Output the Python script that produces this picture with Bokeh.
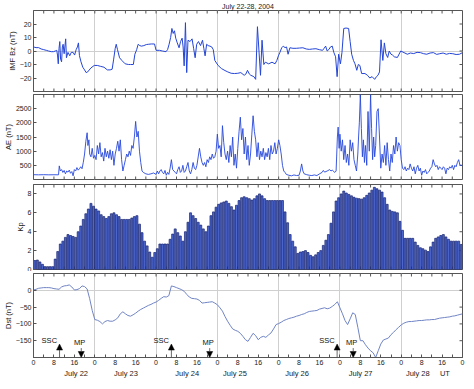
import math
from bokeh.plotting import figure
from bokeh.models import Range1d, LinearAxis, FixedTicker, Arrow, NormalHead, ColumnDataSource
from bokeh.layouts import column
from bokeh.embed import file_html
from bokeh.resources import INLINE
from bokeh.core.properties import value

# ---------------- data ----------------
title_text = "July 22-28, 2004"
hour_ticks = list(range(0, 169, 8))
hour_minor = list(range(4, 169, 8))
day_lines = [24, 48, 72, 96, 120, 144]
day_label_pos = [16.7, 36.2, 60.2, 78.9, 103.2, 128.1, 150.5, 161.1]
day_labels = ["July 22", "July 23", "July 24", "July 25", "July 26", "July 27", "July 28", "UT"]

bz_t = [0.0, 1.0, 2.0, 3.0, 4.0, 5.0, 5.9, 7.0, 7.8, 8.5,
        9.1, 9.4, 9.7, 10.0, 10.3, 10.6, 11.0, 11.3, 11.6, 12.0,
        12.6, 12.9, 13.5, 14.2, 14.8, 15.5, 16.1, 16.7, 17.2, 17.6,
        18.0, 18.6, 19.3, 20.0, 20.6, 21.2, 22.5, 23.8, 25.0, 26.3,
        27.6, 28.9, 30.0, 30.8, 31.4, 32.0, 32.4, 32.9, 33.7, 34.6,
        35.9, 37.2, 38.0, 39.1, 39.7, 40.4, 41.0, 41.6, 42.3, 43.2,
        44.2, 45.1, 46.1, 47.4, 48.0, 49.3, 50.5, 51.9, 52.5, 53.1,
        53.7, 54.2, 54.7, 55.2, 55.7, 56.3, 57.0, 57.6, 58.2, 58.6,
        59.0, 59.5, 60.0, 60.5, 61.3, 62.1, 62.7, 63.3, 63.9, 64.6,
        65.4, 66.2, 66.7, 67.2, 67.8, 68.4, 69.1, 69.8, 70.4, 71.0,
        72.3, 73.6, 75.0, 76.1, 77.4, 78.7, 80.0, 81.2, 82.5, 83.2,
        83.8, 84.5, 85.1, 86.3, 87.0, 87.7, 88.3, 88.9, 89.5, 90.2,
        90.8, 92.1, 93.4, 94.6, 95.3, 95.9, 96.5, 97.2, 97.8, 98.5,
        99.1, 99.7, 100.4, 101.6, 102.9, 104.2, 105.5, 106.8, 108.0, 109.3,
        110.6, 111.9, 113.2, 113.8, 114.4, 115.0, 115.7, 116.3, 117.0, 117.6,
        118.3, 118.9, 119.5, 120.2, 120.8, 121.5, 122.4, 123.4, 124.0, 124.6,
        125.3, 125.9, 126.6, 127.2, 127.8, 128.5, 129.8, 130.8, 131.7, 132.6,
        133.6, 134.3, 134.9, 135.5, 136.1, 136.8, 137.4, 138.0, 138.7, 139.3,
        140.0, 140.6, 141.3, 142.5, 143.8, 145.1, 146.4, 147.6, 148.9, 150.2,
        151.5, 152.8, 154.0, 155.3, 156.6, 157.9, 159.1, 160.4, 161.7, 162.9,
        164.2, 165.5, 166.8, 168.0]
bz_v = [3, 2.5, 2.5, 1.5, 1, 0.5, 0, -0.5, -0.5, 0,
        0.5, -3, -9.5, 2, 7, -6, -8, 3, 5, -2,
        9, -5, -1, -3.5, -1, -1, -3, 1, 3, 6,
        -3.5, -8, -12, -14, -16, -15.5, -12.5, -10.7, -10.7, -11.4,
        -12, -14, -14, -13.5, -6, 2, 5, 1, -5, -7,
        -9.5, -10, -10, -10, -2.4, 1, 5, 4, 3.6, 4,
        4.8, 5, 5.2, 5.2, 0.5, 0.5, 0, -0.5, 1, 5,
        10, 16.7, 13, 15, 9.5, 6, 2.4, 7, 9.5, 3,
        -11, 21, -16, 8, 7, 9, 2, -5, 5, 7,
        4, 8, 2, -3.6, 5, 4, 3.6, 3, 1, -7,
        -10.7, -13, -14.5, -15.5, -16.5, -16.7, -16.5, -16, -18, -17,
        -14.3, -17, -18, -19, -21, 18, 0, -18, 8, -10,
        -8.3, -9.5, -8.3, -9.5, -7, -3.6, -1, 2.4, 3.6, 2.5,
        3, -2.4, 2.4, 2, 2, 2.2, 2.4, 1.5, 1.2, 1.5,
        1.7, 1, 0.5, 2, 3.6, 0, 1.2, 3, 3.6, -1,
        -4.3, -19, -2.4, -9.5, -1, 16.7, 17, 16.7, 7, -2.4,
        -7, -9.5, -14.3, -10, -10.7, -16.7, -16.7, -18, -20, -19,
        -21, -19, -18, -15.5, 8.3, -7, 6, -2, -4.8, 0,
        -2.4, -3, -4.3, -4.8, 0, -1.2, -2.4, -1.5, -1.9, -1,
        -1.2, -2, -2.4, -1.5, -1.2, -2.5, -2, -1.5, -2.4, -1.8,
        -2, -2.6, -2.4, -1.2]

ae_t = [0, 2, 4, 6, 8, 9.8, 10.1, 10.5, 11, 11.5,
        12, 12.5, 13, 13.5, 14, 14.5, 15, 15.5, 16, 16.5,
        17, 17.5, 18, 18.5, 19, 19.5, 20, 20.5, 21, 21.3,
        21.7, 22, 22.5, 23, 23.5, 24, 24.5, 25, 25.5, 26,
        26.5, 27, 27.5, 28, 28.5, 29, 29.5, 30, 30.5, 31,
        31.5, 32, 32.5, 33, 33.5, 34, 34.5, 35, 35.5, 36,
        36.5, 37, 37.5, 38, 38.5, 39, 39.5, 40, 40.5, 41,
        41.5, 42, 42.5, 43, 44, 45, 46, 47, 48, 48.5,
        49, 49.5, 50, 50.5, 51, 51.5, 52, 52.5, 53, 53.5,
        54, 54.5, 55, 55.5, 56, 56.5, 57, 57.5, 58, 58.5,
        59, 59.5, 60, 60.5, 61, 61.5, 62, 62.5, 63, 63.5,
        64, 65, 65.5, 66, 66.5, 67, 67.5, 68, 68.5, 69,
        69.5, 70, 70.5, 71, 71.5, 72, 72.5, 73, 73.5, 74,
        74.5, 75, 75.5, 76, 76.5, 77, 77.5, 78, 78.5, 79,
        79.5, 80, 80.5, 81, 81.5, 82, 82.5, 83, 83.5, 84,
        84.5, 85, 85.5, 86, 86.5, 87, 87.5, 88, 88.5, 89,
        89.5, 90, 90.5, 91, 91.5, 92, 92.5, 93, 93.5, 94,
        94.5, 95, 95.5, 96, 96.5, 97, 97.5, 98, 98.5, 99,
        100, 101, 102, 103, 104, 104.5, 105, 105.5, 106, 107,
        108, 109, 110, 111, 112, 113, 113.5, 114, 115, 116,
        116.5, 117, 118, 118.5, 119, 119.3, 119.7, 120, 120.5, 121,
        121.5, 122, 122.5, 123, 123.5, 124, 124.5, 125, 125.5, 126,
        126.5, 127, 127.3, 127.6, 128, 128.4, 128.8, 129.2, 129.6, 130,
        130.5, 131, 131.5, 132, 132.4, 132.8, 133.2, 133.6, 134, 134.5,
        135, 135.5, 136, 136.5, 137, 137.5, 138, 138.5, 139, 139.5,
        140, 140.5, 141, 141.5, 142, 142.5, 143, 143.5, 144, 144.5,
        145, 145.5, 146, 146.5, 147, 147.5, 148, 148.5, 149, 149.5,
        150, 150.5, 151, 151.5, 152, 152.5, 153, 153.5, 154, 154.5,
        155, 155.5, 156, 156.5, 157, 157.5, 158, 158.5, 159, 159.5,
        160, 160.5, 161, 161.5, 162, 162.5, 163, 163.5, 164, 164.5,
        165, 165.5, 166, 166.5, 167, 167.5, 168]
ae_v = [170, 165, 170, 165, 168, 165, 480, 300, 350, 250,
        320, 200, 300, 260, 330, 220, 280, 130, 350, 300,
        420, 330, 380, 450, 380, 600, 900, 1350, 1650, 1200,
        1400, 900, 800, 1100, 750, 850, 700, 1200, 900, 1300,
        800, 950, 650, 1100, 800, 1000, 750, 1050, 700, 1000,
        500, 900, 1100, 1350, 1000, 1400, 700, 300, 500, 700,
        900, 800, 1000, 850, 1200, 1100, 1500, 2050, 1500, 1700,
        1000, 600, 300, 250, 200, 180, 200, 230, 180, 300,
        200, 300, 350, 250, 200, 320, 150, 250, 180, 400,
        700, 350, 300, 250, 200, 350, 450, 250, 300, 500,
        250, 300, 450, 600, 300, 200, 350, 600, 400, 350,
        500, 1100, 800, 600, 500, 600, 450, 700, 600, 800,
        700, 900, 750, 800, 1000, 1600, 1100, 1200, 800, 1900,
        1300, 900, 700, 1000, 600, 1200, 800, 1500, 500, 900,
        400, 1100, 1700, 2200, 1400, 1800, 900, 1500, 700, 1200,
        500, 900, 1600, 2250, 1700, 1400, 800, 1300, 700, 1000,
        800, 1100, 700, 950, 800, 1100, 700, 1200, 900, 1000,
        1300, 900, 1100, 1400, 1200, 900, 500, 300, 250, 180,
        150, 130, 160, 140, 150, 300, 550, 300, 200, 170,
        150, 140, 160, 140, 200, 250, 320, 260, 300, 350,
        300, 330, 250, 300, 1500, 1850, 1100, 1600, 1000, 1400,
        700, 1200, 600, 900, 500, 1400, 1000, 1300, 700, 500,
        300, 900, 1500, 2000, 3000, 1800, 800, 1400, 600, 1200,
        500, 2400, 1000, 3000, 1800, 700, 1500, 800, 1200, 2400,
        2500, 1500, 400, 900, 600, 1200, 500, 1300, 700, 300,
        900, 600, 1200, 900, 1500, 1000, 1300, 1200, 700, 400,
        350, 450, 300, 400, 350, 550, 400, 300, 450, 200,
        400, 500, 300, 400, 150, 300, 250, 350, 200, 250,
        300, 400, 450, 700, 550, 450, 500, 350, 450, 400,
        350, 450, 400, 200, 400, 350, 450, 400, 500, 350,
        500, 450, 600, 700, 500, 500, 480]

kp = [0.95, 1.0, 0.8, 0.55, 0.3, 0.3, 0.3, 0.3, 1.1, 1.9, 2.7, 3.0,
      3.4, 3.7, 3.6, 3.5, 3.4, 4.0, 4.6, 5.3, 5.9, 6.4, 7.0, 6.7,
      6.4, 6.2, 5.8, 5.6, 5.4, 5.6, 5.9, 6.0, 5.8, 5.6, 5.3, 5.3,
      5.3, 5.3, 5.45, 5.6, 5.7, 4.8, 3.9, 3.0, 2.5, 1.85, 1.3, 1.8,
      2.2, 2.7, 2.7, 2.7, 2.7, 3.2, 3.75, 4.3, 3.9, 3.55, 3.0, 4.0,
      5.0, 6.0, 5.7, 5.4, 5.0, 4.7, 4.3, 4.0, 4.6, 5.7, 6.1, 6.6,
      6.9, 7.05, 7.15, 7.25, 7.0, 6.65, 6.3, 6.8, 7.3, 7.6, 7.7, 7.6,
      7.5, 7.35, 7.5, 7.8, 8.0, 7.8, 7.5, 7.3, 7.3, 7.3, 7.3, 7.3,
      7.3, 7.3, 6.1, 4.95, 3.7, 3.0, 2.4, 1.7, 1.85, 1.9, 2.0, 1.8,
      1.5, 1.35, 1.55, 1.8, 2.0, 2.55, 3.1, 3.7, 4.9, 6.1, 7.25, 7.6,
      8.0, 8.3, 8.1, 7.95, 7.8, 7.65, 7.55, 7.5, 7.45, 7.6, 7.85, 8.1,
      8.4, 8.7, 8.55, 8.4, 8.2, 7.6, 6.9, 6.3, 6.15, 6.1, 6.0, 5.1,
      4.15, 3.3, 3.3, 3.3, 3.3, 2.9, 2.55, 2.3, 2.2, 2.05, 1.9, 2.4,
      2.9, 3.3, 3.45, 3.6, 3.7, 3.45, 3.2, 3.0, 3.0, 3.0, 3.0, 2.65]

dst = [1, 3, 6, 7, 8, 8, 8, 7, 5, 4, 3, 10,
       13, 14, 16, 10, 1, 2, 5, 13, 11, 4, -25, -60,
       -87, -89, -93, -100, -93, -90, -92, -92, -88, -82, -70, -64,
       -70, -75, -77, -73, -68, -62, -57, -53, -49, -45, -42, -38,
       -35, -30, -24, -19, -20, -16, 13, 11, 8, 5, 2, -3,
       -12, -20, -24, -25, -26, -30, -38, -37, -36, -35, -34, -38,
       -43, -52, -62, -78, -92, -104, -115, -119, -122, -128, -137, -147,
       -152, -140, -128, -135, -147, -140, -137, -140, -133, -127, -115, -102,
       -99, -95, -90, -87, -84, -82, -80, -77, -75, -72, -70, -66,
       -63, -62, -61, -60, -56, -54, -52, -55, -53, -48, -42, -34,
       -52, -70, -90, -102, -85, -67, -72, -110, -150, -150, -162, -172,
       -180, -186, -200, -180, -160, -148, -145, -142, -132, -125, -117, -110,
       -103, -98, -95, -93, -93, -92, -91, -90, -90, -89, -88, -88,
       -87, -87, -85, -83, -82, -81, -80, -79, -77, -76, -74, -72,
       -70]

ssc_t = [10.2, 54.0, 118.9]
mp_t = [18.7, 69.0, 125.2]

assert len(bz_t) == len(bz_v)
assert len(ae_t) == len(ae_v)

# ---------------- styling ----------------
FONT = "Liberation Sans"
AX = "#555555"
GRID = "#cfcfcf"
W = 466
LEFT = 26
RIGHT = 4
X0, X1 = 0, 168
TICK = 3

xr = Range1d(X0, X1)
all_hour_ticks = sorted(hour_ticks + hour_minor)


def style(ax):
    ax.axis_line_color = AX
    ax.major_tick_line_color = AX
    ax.minor_tick_line_color = AX
    ax.major_tick_in = TICK
    ax.major_tick_out = 0
    ax.minor_tick_in = TICK
    ax.minor_tick_out = 0
    ax.major_label_text_font = FONT
    ax.major_label_text_color = "#222222"
    ax.major_label_text_font_size = "7px"
    ax.major_label_standoff = 2
    ax.axis_label_text_font = FONT
    ax.axis_label_text_font_style = "normal"
    ax.axis_label_text_font_size = "7.5px"
    ax.axis_label_text_color = "#222222"
    ax.axis_label_standoff = 0


def inward_ticks(p, xs, ys, angle):
    # short tick marks of fixed screen length, drawn from a frame edge into the plot
    p.ray(x=xs, y=ys, length=TICK, length_units="screen", angle=angle,
          line_color=AX, line_width=1)


def make_fig(h, yr, yticks, ylabel, top, bottom, xlabels=False, zero_line=False):
    p = figure(width=W, height=h, x_range=xr, y_range=Range1d(*yr),
               output_backend="svg", toolbar_location=None,
               min_border_left=LEFT, min_border_right=RIGHT,
               min_border_top=top, min_border_bottom=bottom)
    p.outline_line_color = AX
    xa = p.xaxis[0]
    if xlabels:
        xa.ticker = FixedTicker(ticks=hour_ticks, minor_ticks=hour_minor)
        style(xa)
        xa.major_label_overrides = {t: str(t % 24) for t in hour_ticks}
    else:
        xa.visible = False
        inward_ticks(p, all_hour_ticks, [yr[0]] * len(all_hour_ticks), math.pi / 2)
    ya = p.yaxis[0]
    ya.ticker = FixedTicker(ticks=yticks, minor_ticks=[])
    style(ya)
    ya.minor_tick_line_color = None
    ya.axis_label = ylabel
    inward_ticks(p, all_hour_ticks, [yr[1]] * len(all_hour_ticks), -math.pi / 2)
    inward_ticks(p, [X1] * len(yticks), yticks, math.pi)
    p.xgrid.ticker = FixedTicker(ticks=day_lines)
    p.xgrid.grid_line_color = GRID
    if zero_line:
        p.ygrid.ticker = FixedTicker(ticks=[0])
        p.ygrid.grid_line_color = GRID
    else:
        p.ygrid.grid_line_color = None
    return p


# Panel 1: IMF Bz
p1 = make_fig(92, (-30, 30), [-20, -10, 0, 10, 20], "IMF Bz (nT)", 9, 1, zero_line=True)
p1.title.text = title_text
p1.title.align = "center"
p1.title.text_font = FONT
p1.title.text_font_size = "7px"
p1.title.text_font_style = "normal"
p1.title.text_color = "#222222"
p1.title.standoff = 1
p1.line(bz_t, bz_v, line_color="#2445d6", line_width=1)

# Panel 2: AE
p2 = make_fig(90, (0, 3000), [500, 1000, 1500, 2000, 2500], "AE (nT)", 2, 3)
p2.line(ae_t, ae_v, line_color="#2747da", line_width=0.9)

# Panel 3: Kp
p3 = make_fig(89, (0, 9), [0, 2, 4, 6, 8], "Kp", 2, 2)
p3.vbar(x=[i + 0.5 for i in range(len(kp))], top=kp, bottom=0, width=0.78,
        fill_color="#4d67cf", line_color="#16226e", line_width=0.7)

# Panel 4: Dst
p4 = make_fig(110, (-200, 50), [-150, -100, -50, 0], "Dst (nT)", 2, 24,
              xlabels=True, zero_line=True)
p4.line(list(range(len(dst))), dst, line_color="#7084c4", line_width=1)

da = LinearAxis(ticker=FixedTicker(ticks=day_label_pos, minor_ticks=[]))
style(da)
da.axis_line_color = None
da.major_tick_line_color = None
da.major_tick_in = 0
da.major_label_text_font_size = "7.5px"
da.major_label_standoff = 1
da.major_label_overrides = {pos: lab for pos, lab in zip(day_label_pos, day_labels)}
p4.add_layout(da, "below")

ssc_src = ColumnDataSource(dict(x=ssc_t, y0=[-200] * len(ssc_t), y1=[-160] * len(ssc_t)))
mp_src = ColumnDataSource(dict(x=mp_t, y0=[-172] * len(mp_t), y1=[-200] * len(mp_t)))
for src in (ssc_src, mp_src):
    p4.add_layout(Arrow(end=NormalHead(size=6, fill_color="black", line_color="black", line_width=0.5),
                        x_start="x", y_start="y0", x_end="x", y_end="y1", source=src,
                        line_color="#444444", line_width=0.8))
p4.text(x=[t - 4.0 for t in ssc_t], y=[-150] * len(ssc_t), text=["SSC"] * len(ssc_t),
        text_font=value(FONT), text_font_size="7.5px", text_align="center",
        text_baseline="middle", text_color="#111111")
p4.text(x=[t - 0.6 for t in mp_t], y=[-155] * len(mp_t), text=["MP"] * len(mp_t),
        text_font=value(FONT), text_font_size="7.5px", text_align="center",
        text_baseline="middle", text_color="#111111")

layout = column(p1, p2, p3, p4, spacing=0)
open("out.html", "w").write(file_html(layout, INLINE))
